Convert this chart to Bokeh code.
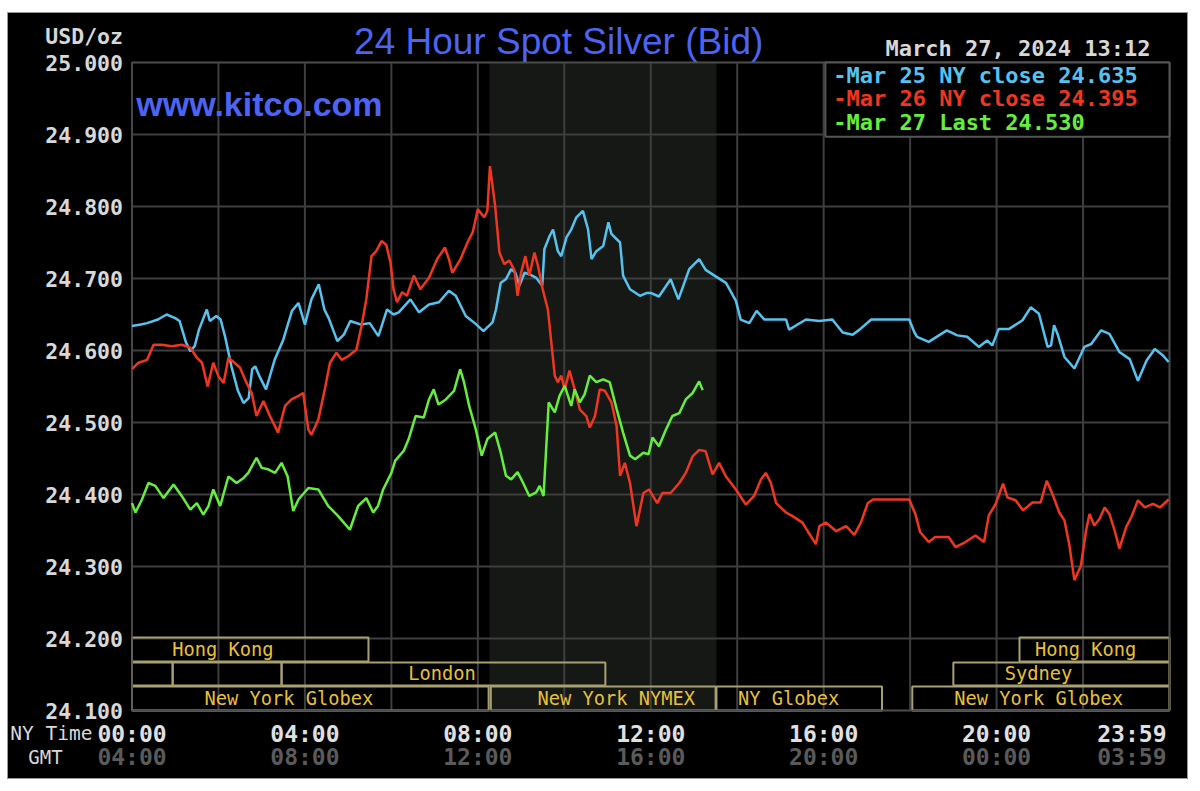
from bokeh.plotting import figure
from bokeh.models import Range1d, Label
from bokeh.embed import file_html
from bokeh.resources import INLINE

# ---------------- data ----------------
y_ticks = [24.1, 24.2, 24.3, 24.4, 24.5, 24.6, 24.7, 24.8, 24.9, 25.0]
y_tick_labels = ["24.100", "24.200", "24.300", "24.400", "24.500", "24.600", "24.700", "24.800", "24.900",
                 "25.000"]
x_grid_hours = [0, 2, 4, 6, 8, 10, 12, 14, 16, 18, 20, 22, 24]
ny_tick_hours = [0, 4, 8, 12, 16, 20, 24]
ny_tick_labels = ["00:00", "04:00", "08:00", "12:00", "16:00", "20:00", "23:59"]
gmt_tick_labels = ["04:00", "08:00", "12:00", "16:00", "20:00", "00:00", "03:59"]

series_names = ["Mar 25 NY close", "Mar 26 NY close", "Mar 27 Last"]
series_last = ["24.635", "24.395", "24.530"]
series_colors = ["#55c3f0", "#f0361f", "#66ee3c"]

mar25_h = [0.00, 0.20, 0.35, 0.6, 0.8, 1.0, 1.1, 1.25, 1.35, 1.45, 1.55, 1.73, 1.8, 1.95, 2.05, 2.15, 2.3, 2.45,
           2.58, 2.7, 2.78, 2.85, 2.95, 3.1, 3.3, 3.5, 3.7, 3.85, 4.0, 4.15, 4.32, 4.45, 4.55, 4.75, 4.9, 5.05,
           5.3, 5.5, 5.7, 5.9, 6.05, 6.17, 6.44, 6.64, 6.87, 7.1, 7.33, 7.49, 7.72, 7.95, 8.13, 8.34, 8.42,
           8.53, 8.65, 8.77, 8.87, 8.96, 9.08, 9.19, 9.35, 9.49, 9.54, 9.66, 9.74, 9.85, 9.93, 10.05, 10.16,
           10.28, 10.43, 10.55, 10.63, 10.74, 10.9, 11.02, 11.09, 11.29, 11.36, 11.52, 11.75, 11.91, 12.0,
           12.19, 12.46, 12.64, 12.89, 13.12, 13.27, 13.5, 13.74, 13.97, 14.08, 14.28, 14.45, 14.63, 15.13,
           15.2, 15.59, 15.9, 16.2, 16.44, 16.67, 16.83, 17.1, 17.98, 18.1, 18.16, 18.43, 18.85, 19.09, 19.32,
           19.59, 19.78, 19.9, 20.05, 20.29, 20.6, 20.79, 20.98, 21.18, 21.26, 21.33, 21.41, 21.57, 21.8,
           22.03, 22.19, 22.42, 22.61, 22.84, 23.08, 23.27, 23.47, 23.66, 23.85, 23.98]
mar25_v = [24.634, 24.636, 24.638, 24.643, 24.650, 24.645, 24.641, 24.611, 24.599, 24.606, 24.629, 24.657,
           24.641, 24.648, 24.643, 24.620, 24.578, 24.544, 24.527, 24.534, 24.574, 24.578, 24.564, 24.546,
           24.587, 24.615, 24.655, 24.666, 24.636, 24.671, 24.692, 24.657, 24.645, 24.613, 24.622, 24.641,
           24.636, 24.638, 24.620, 24.657, 24.650, 24.653, 24.671, 24.653, 24.664, 24.667, 24.683, 24.676,
           24.648, 24.637, 24.627, 24.639, 24.657, 24.694, 24.699, 24.713, 24.708, 24.690, 24.708, 24.706,
           24.701, 24.690, 24.741, 24.759, 24.768, 24.738, 24.731, 24.757, 24.768, 24.785, 24.794, 24.768,
           24.727, 24.738, 24.745, 24.778, 24.762, 24.750, 24.704, 24.685, 24.676, 24.680, 24.680, 24.675,
           24.699, 24.671, 24.713, 24.727, 24.712, 24.703, 24.694, 24.669, 24.643, 24.638, 24.655, 24.643,
           24.643, 24.629, 24.643, 24.641, 24.643, 24.625, 24.622, 24.629, 24.643, 24.643, 24.625, 24.619,
           24.612, 24.628, 24.621, 24.619, 24.605, 24.614, 24.607, 24.630, 24.630, 24.642, 24.660, 24.651,
           24.605, 24.607, 24.635, 24.623, 24.591, 24.575, 24.605, 24.609, 24.628, 24.623, 24.598, 24.588,
           24.558, 24.586, 24.602, 24.593, 24.584]

mar26_h = [0.0, 0.15, 0.35, 0.5, 0.69, 0.92, 1.15, 1.35, 1.5, 1.62, 1.75, 1.88, 2.0, 2.12, 2.23, 2.37, 2.5,
           2.65, 2.77, 2.88, 3.04, 3.19, 3.38, 3.54, 3.69, 3.85, 3.96, 4.08, 4.15, 4.31, 4.46, 4.58, 4.73,
           4.85, 5.0, 5.19, 5.31, 5.42, 5.54, 5.65, 5.77, 5.88, 5.98, 6.05, 6.13, 6.25, 6.36, 6.52, 6.67,
           6.87, 7.06, 7.24, 7.33, 7.41, 7.6, 7.76, 7.88, 8.0, 8.15, 8.22, 8.28, 8.34, 8.4, 8.5, 8.61, 8.73,
           8.85, 8.92, 9.0, 9.1, 9.19, 9.31, 9.39, 9.5, 9.62, 9.7, 9.78, 9.85, 9.93, 10.01, 10.12, 10.24,
           10.36, 10.51, 10.59, 10.71, 10.82, 10.94, 11.09, 11.21, 11.29, 11.4, 11.52, 11.67, 11.83, 11.96,
           12.15, 12.27, 12.46, 12.66, 12.81, 12.97, 13.12, 13.27, 13.43, 13.58, 13.74, 13.97, 14.2, 14.39,
           14.55, 14.66, 14.78, 14.9, 15.13, 15.28, 15.51, 15.63, 15.82, 15.9, 16.05, 16.29, 16.52, 16.71,
           16.86, 17.02, 17.14, 17.98, 18.12, 18.23, 18.43, 18.58, 18.89, 19.05, 19.28, 19.51, 19.71, 19.82,
           19.98, 20.15, 20.25, 20.44, 20.61, 20.83, 21.02, 21.16, 21.29, 21.45, 21.57, 21.68, 21.8, 21.95,
           22.07, 22.15, 22.26, 22.38, 22.5, 22.61, 22.73, 22.84, 23.0, 23.12, 23.27, 23.43, 23.62, 23.78,
           23.98]
mar26_v = [24.574, 24.583, 24.587, 24.608, 24.608, 24.606, 24.608, 24.604, 24.590, 24.583, 24.550, 24.583,
           24.564, 24.555, 24.590, 24.583, 24.576, 24.555, 24.541, 24.509, 24.530, 24.509, 24.486, 24.523,
           24.532, 24.537, 24.541, 24.490, 24.483, 24.504, 24.546, 24.583, 24.597, 24.587, 24.592, 24.601,
           24.634, 24.671, 24.731, 24.738, 24.752, 24.747, 24.722, 24.685, 24.667, 24.681, 24.676, 24.704,
           24.685, 24.701, 24.727, 24.743, 24.727, 24.708, 24.727, 24.750, 24.764, 24.796, 24.785, 24.794,
           24.856, 24.829, 24.801, 24.736, 24.720, 24.725, 24.711, 24.676, 24.708, 24.731, 24.704, 24.736,
           24.718, 24.685, 24.657, 24.611, 24.565, 24.556, 24.565, 24.546, 24.572, 24.546, 24.518, 24.509,
           24.493, 24.509, 24.546, 24.544, 24.528, 24.495, 24.426, 24.444, 24.416, 24.356, 24.402, 24.407,
           24.388, 24.402, 24.402, 24.416, 24.430, 24.453, 24.462, 24.460, 24.428, 24.444, 24.425, 24.407,
           24.386, 24.398, 24.421, 24.430, 24.416, 24.388, 24.375, 24.370, 24.361, 24.349, 24.331, 24.356,
           24.361, 24.349, 24.356, 24.344, 24.361, 24.388, 24.393, 24.393, 24.373, 24.348, 24.334, 24.341,
           24.341, 24.327, 24.334, 24.343, 24.334, 24.371, 24.387, 24.415, 24.396, 24.392, 24.378, 24.389,
           24.389, 24.419, 24.401, 24.375, 24.364, 24.331, 24.281, 24.301, 24.350, 24.373, 24.357, 24.366,
           24.382, 24.373, 24.350, 24.325, 24.355, 24.369, 24.392, 24.382, 24.387, 24.382, 24.393]

mar27_h = [0.0, 0.08, 0.23, 0.38, 0.54, 0.73, 0.96, 1.15, 1.35, 1.5, 1.65, 1.77, 1.88, 2.04, 2.23, 2.42, 2.58,
           2.69, 2.88, 3.0, 3.15, 3.31, 3.46, 3.6, 3.73, 3.85, 4.08, 4.31, 4.54, 4.77, 5.04, 5.23, 5.42, 5.58,
           5.69, 5.81, 6.0, 6.09, 6.29, 6.4, 6.56, 6.75, 6.87, 6.98, 7.09, 7.26, 7.45, 7.59, 7.68, 7.8, 7.95,
           8.09, 8.22, 8.4, 8.53, 8.65, 8.77, 8.92, 9.04, 9.19, 9.35, 9.43, 9.52, 9.58, 9.64, 9.78, 9.89,
           10.01, 10.16, 10.24, 10.36, 10.47, 10.59, 10.74, 10.9, 11.05, 11.21, 11.36, 11.52, 11.64, 11.83,
           11.95, 12.04, 12.19, 12.35, 12.5, 12.66, 12.81, 12.97, 13.12, 13.2]
mar27_v = [24.388, 24.375, 24.393, 24.416, 24.412, 24.395, 24.414, 24.398, 24.379, 24.388, 24.372, 24.384,
           24.407, 24.384, 24.425, 24.416, 24.423, 24.430, 24.451, 24.437, 24.435, 24.430, 24.444, 24.425,
           24.377, 24.393, 24.409, 24.407, 24.384, 24.370, 24.351, 24.384, 24.395, 24.375, 24.384, 24.407,
           24.430, 24.447, 24.461, 24.477, 24.509, 24.507, 24.532, 24.546, 24.525, 24.532, 24.544, 24.574,
           24.556, 24.523, 24.491, 24.454, 24.477, 24.486, 24.458, 24.426, 24.421, 24.431, 24.417, 24.398,
           24.403, 24.412, 24.398, 24.463, 24.528, 24.514, 24.537, 24.551, 24.523, 24.546, 24.528, 24.539,
           24.565, 24.556, 24.560, 24.556, 24.519, 24.486, 24.454, 24.449, 24.458, 24.456, 24.479, 24.467,
           24.490, 24.509, 24.513, 24.532, 24.541, 24.557, 24.545]

# trading sessions shown in the strip at the bottom (hours, NY time)
session_names = ["Hong Kong", "", "", "London", "New York Globex", "New York NYMEX", "NY Globex",
                 "New York Globex", "Sydney", "Hong Kong"]
session_start = [0.0, 0.0, 0.94, 3.46, 0.0, 8.3, 13.52, 18.05, 19.0, 20.53]
session_end = [5.47, 0.94, 3.46, 10.95, 8.25, 13.5, 17.35, 24.0, 24.0, 24.0]
session_row = [0, 1, 1, 1, 2, 2, 2, 2, 1, 0]
session_label_hour = [2.1, 0, 0, 7.17, 3.63, 11.2, 15.19, 20.97, 20.97, 22.06]
nymex_open, nymex_close = 8.27, 13.52

# ---------------- scales ----------------
X0, X1 = 0.0, 24.0          # time axis (hours, NY time)
Y0, Y1 = 24.1, 25.0         # price axis (USD/oz)
FIG_W, FIG_H = 1181, 767
PAD_L, PAD_R, PAD_T, PAD_B = 124.5, 19.0, 50.0, 69.0   # room for the axis texts, in pixels
kx = (FIG_W - PAD_L - PAD_R) / (X1 - X0)
ky = (FIG_H - PAD_T - PAD_B) / (Y1 - Y0)
x_range = Range1d(X0 - PAD_L / kx, X1 + PAD_R / kx)
y_range = Range1d(Y0 - PAD_B / ky, Y1 + PAD_T / ky)


def dx(px):
    return px / kx


def dy(px):
    return px / ky


p = figure(width=FIG_W, height=FIG_H, x_range=x_range, y_range=y_range,
           x_axis_location=None, y_axis_location=None,
           output_backend="svg", toolbar_location=None,
           background_fill_color="black", border_fill_color="black",
           min_border=0, margin=(12, 0, 0, 7))
p.grid.visible = False
p.outline_line_color = "#9a9a9a"
p.outline_line_width = 1

mono = "DejaVu Sans Mono"

# NYMEX session shading
p.quad(left=[nymex_open], right=[nymex_close], top=[Y1], bottom=[Y0],
       fill_color="#151815", line_color=None)

# grid
p.segment(x0=x_grid_hours, x1=x_grid_hours, y0=[Y0] * len(x_grid_hours), y1=[Y1] * len(x_grid_hours),
          line_color="#3e3e3e", line_width=2)
p.segment(x0=[X0] * len(y_ticks), x1=[X1] * len(y_ticks), y0=y_ticks, y1=y_ticks,
          line_color="#3e3e3e", line_width=2)

# y tick labels
for v, t in zip(y_ticks, y_tick_labels):
    p.add_layout(Label(x=X0 - dx(9), y=v, text=t, text_align="right", text_baseline="middle",
                       text_font=mono, text_font_style="bold", text_font_size="21.5px",
                       text_color="#d8d8d8"))
p.add_layout(Label(x=X0 - dx(9), y=Y1 + dy(26), text="USD/oz", text_align="right", text_baseline="middle",
                   text_font=mono, text_font_style="bold", text_font_size="21.5px", text_color="#d8d8d8"))

# x tick labels (NY time and GMT)
for hx, ny, gmt in zip(ny_tick_hours, ny_tick_labels, gmt_tick_labels):
    if hx >= X1:
        align, xx = "right", X1 - dx(3)
    else:
        align, xx = "center", hx
    p.add_layout(Label(x=xx, y=Y0 - dy(23), text=ny, text_align=align, text_baseline="middle",
                       text_font=mono, text_font_style="bold", text_font_size="23px", text_color="#e0e0e0"))
    p.add_layout(Label(x=xx, y=Y0 - dy(46), text=gmt, text_align=align, text_baseline="middle",
                       text_font=mono, text_font_style="bold", text_font_size="23px", text_color="#5a5a5a"))
p.add_layout(Label(x=X0 - dx(39.5), y=Y0 - dy(23), text="NY Time", text_align="right", text_baseline="middle",
                   text_font=mono, text_font_size="19.5px", text_color="#d8d8d8"))
p.add_layout(Label(x=X0 - dx(86.5), y=Y0 - dy(46), text="GMT", text_align="center", text_baseline="middle",
                   text_font=mono, text_font_size="19px", text_color="#d8d8d8"))

# session strip
row_top = [24.2014, 24.1667, 24.1333]
row_bot = [24.168, 24.1347, 24.1]
p.quad(left=session_start, right=session_end,
       top=[row_top[r] for r in session_row], bottom=[row_bot[r] for r in session_row],
       fill_color=None, line_color="#a8a070", line_width=2)
for name, hx, r in zip(session_names, session_label_hour, session_row):
    if name:
        p.add_layout(Label(x=hx, y=(row_top[r] + row_bot[r]) / 2, text=name, text_align="center",
                           text_baseline="middle", text_font=mono, text_font_size="18.7px",
                           text_color="#e8c038"))

# plot-area border
p.quad(left=[X0], right=[X1], top=[Y1], bottom=[Y0], fill_color=None, line_color="#4a4a4a", line_width=1.5)

# price lines
for hs, vs, c in zip([mar25_h, mar26_h, mar27_h], [mar25_v, mar26_v, mar27_v], series_colors):
    p.line(hs, vs, line_color=c, line_width=2.5)

# legend box
p.quad(left=[16.04], right=[X1], top=[Y1], bottom=[24.897], fill_color="black", line_color="#555555",
       line_width=2)
for i, (n, last, c) in enumerate(zip(series_names, series_last, series_colors)):
    p.add_layout(Label(x=16.22, y=24.982 - i * 0.0325, text="-" + n + " " + last, text_align="left",
                       text_baseline="middle", text_font=mono, text_font_style="bold",
                       text_font_size="22px", text_color=c))

# titles
p.add_layout(Label(x=9.87, y=Y1 + dy(21), text="24 Hour Spot Silver (Bid)", text_align="center",
                   text_baseline="middle", text_font="Liberation Sans", text_font_size="37px",
                   text_color="#4d63f2"))
p.add_layout(Label(x=0.1, y=24.942, text="www.kitco.com", text_align="left", text_baseline="middle",
                   text_font="Liberation Sans", text_font_style="bold", text_font_size="34px",
                   text_color="#4d63f2"))
p.add_layout(Label(x=23.56, y=Y1 + dy(14), text="March 27, 2024 13:12", text_align="right",
                   text_baseline="middle", text_font=mono, text_font_style="bold", text_font_size="22px",
                   text_color="#d8d8d8"))

open("out.html", "w").write(file_html(p, INLINE))
